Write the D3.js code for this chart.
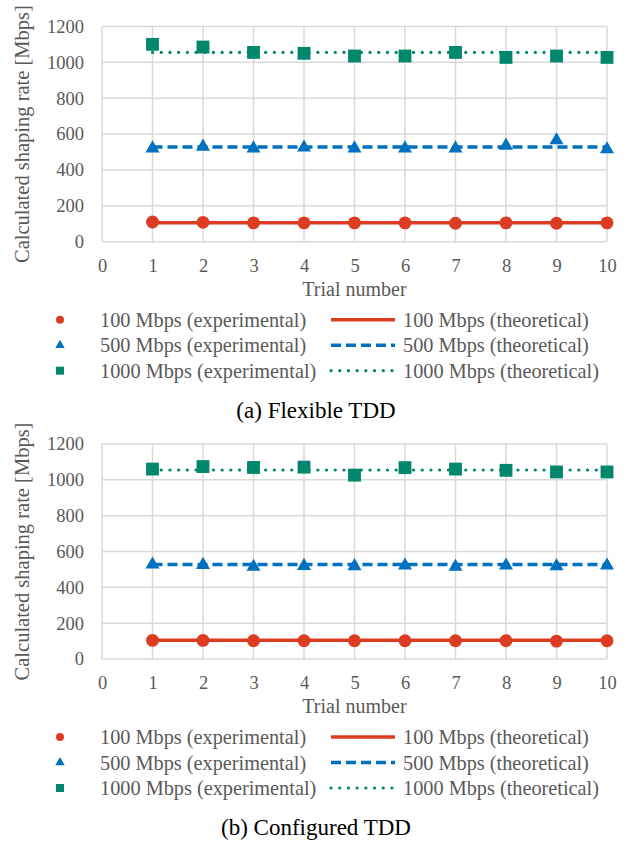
<!DOCTYPE html>
<html>
<head>
<meta charset="utf-8">
<script src="https://cdn.jsdelivr.net/npm/d3@7"></script>
<style>
    body { margin: 0; background: #fff; }
    svg text { font-family: "Liberation Serif", "Times New Roman", serif; }
</style>
</head>
<body>
<div id="chartArea"></div>
<script>
// Data
const trials = [1, 2, 3, 4, 5, 6, 7, 8, 9, 10];
const xTicks = [0, 1, 2, 3, 4, 5, 6, 7, 8, 9, 10];
const yTicks = [0, 200, 400, 600, 800, 1000, 1200];

const theo100 = [105, 105, 105, 105, 105, 105, 105, 105, 105, 105];
const theo500 = [528, 528, 528, 528, 528, 528, 528, 528, 528, 528];
const theo1000 = [1055, 1055, 1055, 1055, 1055, 1055, 1055, 1055, 1055, 1055];

const flex100 = [110, 108, 105, 105, 105, 105, 103, 105, 103, 105];
const flex500 = [520, 530, 520, 525, 520, 520, 520, 535, 565, 515];
const flex1000 = [1100, 1085, 1055, 1050, 1035, 1035, 1055, 1027, 1035, 1027];

const conf100 = [104, 104, 102, 102, 102, 102, 102, 102, 100, 102];
const conf500 = [527, 525, 515, 520, 518, 522, 515, 522, 518, 522];
const conf1000 = [1060, 1074, 1069, 1071, 1026, 1068, 1060, 1053, 1044, 1044];

const seriesNames = ['100 Mbps', '500 Mbps', '1000 Mbps'];
const colors = ['#dc3c22', '#0070c0', '#00876c'];

let svg = d3.select('#chartArea')
    .append('svg')
        .attr('width', 632)
        .attr('height', 844);

function drawPanel(top, bottom, expData, caption) {
    let left = 102, right = 607;

    let xScale = d3.scaleLinear().domain([0, 10]).range([left, right]);
    let yScale = d3.scaleLinear().domain([0, 1200]).range([bottom, top]);

    let g = svg.append('g');

    // grid
    g.append('g')
        .selectAll('line')
        .data(yTicks)
        .join('line')
            .attr('x1', left).attr('x2', right)
            .attr('y1', d => yScale(d)).attr('y2', d => yScale(d))
            .attr('stroke', '#d9d9d9').attr('stroke-width', 1.5);

    g.append('g')
        .selectAll('line')
        .data(xTicks)
        .join('line')
            .attr('x1', d => xScale(d)).attr('x2', d => xScale(d))
            .attr('y1', top).attr('y2', bottom)
            .attr('stroke', '#d9d9d9').attr('stroke-width', 1.5);

    // axes (labels only)
    let yAxis = g.append('g')
        .attr('transform', 'translate(' + left + ',0)')
        .call(d3.axisLeft(yScale).tickValues(yTicks).tickFormat(d3.format('d')).tickSize(0).tickPadding(18));
    let xAxis = g.append('g')
        .attr('transform', 'translate(0,' + bottom + ')')
        .call(d3.axisBottom(xScale).tickValues(xTicks).tickFormat(d3.format('d')).tickSize(0).tickPadding(17));
    [xAxis, yAxis].forEach(a => {
        a.attr('font-family', null);
        a.select('.domain').remove();
        a.selectAll('text')
            .attr('font-size', 18.5)
            .attr('fill', '#595959');
    });

    g.append('text')
        .attr('x', (left + right) / 2)
        .attr('y', bottom + 54)
        .attr('text-anchor', 'middle')
        .attr('font-size', 20)
        .attr('fill', '#595959')
        .text('Trial number');

    g.append('text')
        .attr('transform', 'translate(29,' + (top + bottom) / 2 + ') rotate(-90)')
        .attr('text-anchor', 'middle')
        .attr('font-size', 20.5)
        .attr('fill', '#595959')
        .text('Calculated shaping rate [Mbps]');

    // theoretical lines
    let theo = [theo100, theo500, theo1000];
    let dashes = [null, '10,5', '0.1,8.6'];
    let line = d3.line()
        .x((d, i) => xScale(trials[i]))
        .y(d => yScale(d));

    theo.forEach((s, k) => {
        g.append('path')
            .attr('d', line(s))
            .attr('fill', 'none')
            .attr('stroke', colors[k])
            .attr('stroke-width', k == 2 ? 3.2 : 3.5)
            .attr('stroke-linecap', k == 2 ? 'round' : 'butt')
            .attr('stroke-dasharray', dashes[k]);
    });

    // experimental markers
    let symbols = [d3.symbolCircle, d3.symbolTriangle, d3.symbolSquare];
    let sizes = [130, 85, 165];
    expData.forEach((s, k) => {
        g.append('g')
            .selectAll('path')
            .data(s)
            .join('path')
                .attr('transform', (d, i) => 'translate(' + xScale(trials[i]) + ',' + yScale(d) + ')')
                .attr('d', d3.symbol().type(symbols[k]).size(sizes[k]))
                .attr('fill', colors[k]);
    });

    // legend
    let legendTop = bottom + 78;
    seriesNames.forEach((name, k) => {
        let y = legendTop + k * 25.5;
        g.append('path')
            .attr('transform', 'translate(60,' + y + ')')
            .attr('d', d3.symbol().type(symbols[k]).size([50, 38, 64][k]))
            .attr('fill', colors[k]);
        g.append('text')
            .attr('x', 100).attr('y', y)
            .attr('dy', '0.35em')
            .attr('font-size', 20.3)
            .attr('fill', '#595959')
            .text(name + ' (experimental)');
        g.append('line')
            .attr('x1', 331).attr('x2', 395)
            .attr('y1', y).attr('y2', y)
            .attr('stroke', colors[k])
            .attr('stroke-width', k == 2 ? 3.2 : 3.5)
            .attr('stroke-linecap', k == 2 ? 'round' : 'butt')
            .attr('stroke-dasharray', dashes[k]);
        g.append('text')
            .attr('x', 403).attr('y', y)
            .attr('dy', '0.35em')
            .attr('font-size', 20.3)
            .attr('fill', '#595959')
            .text(name + ' (theoretical)');
    });

    g.append('text')
        .attr('x', 316)
        .attr('y', bottom + 168)
        .attr('dy', '0.35em')
        .attr('text-anchor', 'middle')
        .attr('font-size', 23)
        .attr('fill', '#000')
        .text(caption);
}

drawPanel(26.4, 241.7, [flex100, flex500, flex1000], '(a) Flexible TDD');
drawPanel(444, 659, [conf100, conf500, conf1000], '(b) Configured TDD');
</script>
</body>
</html>
